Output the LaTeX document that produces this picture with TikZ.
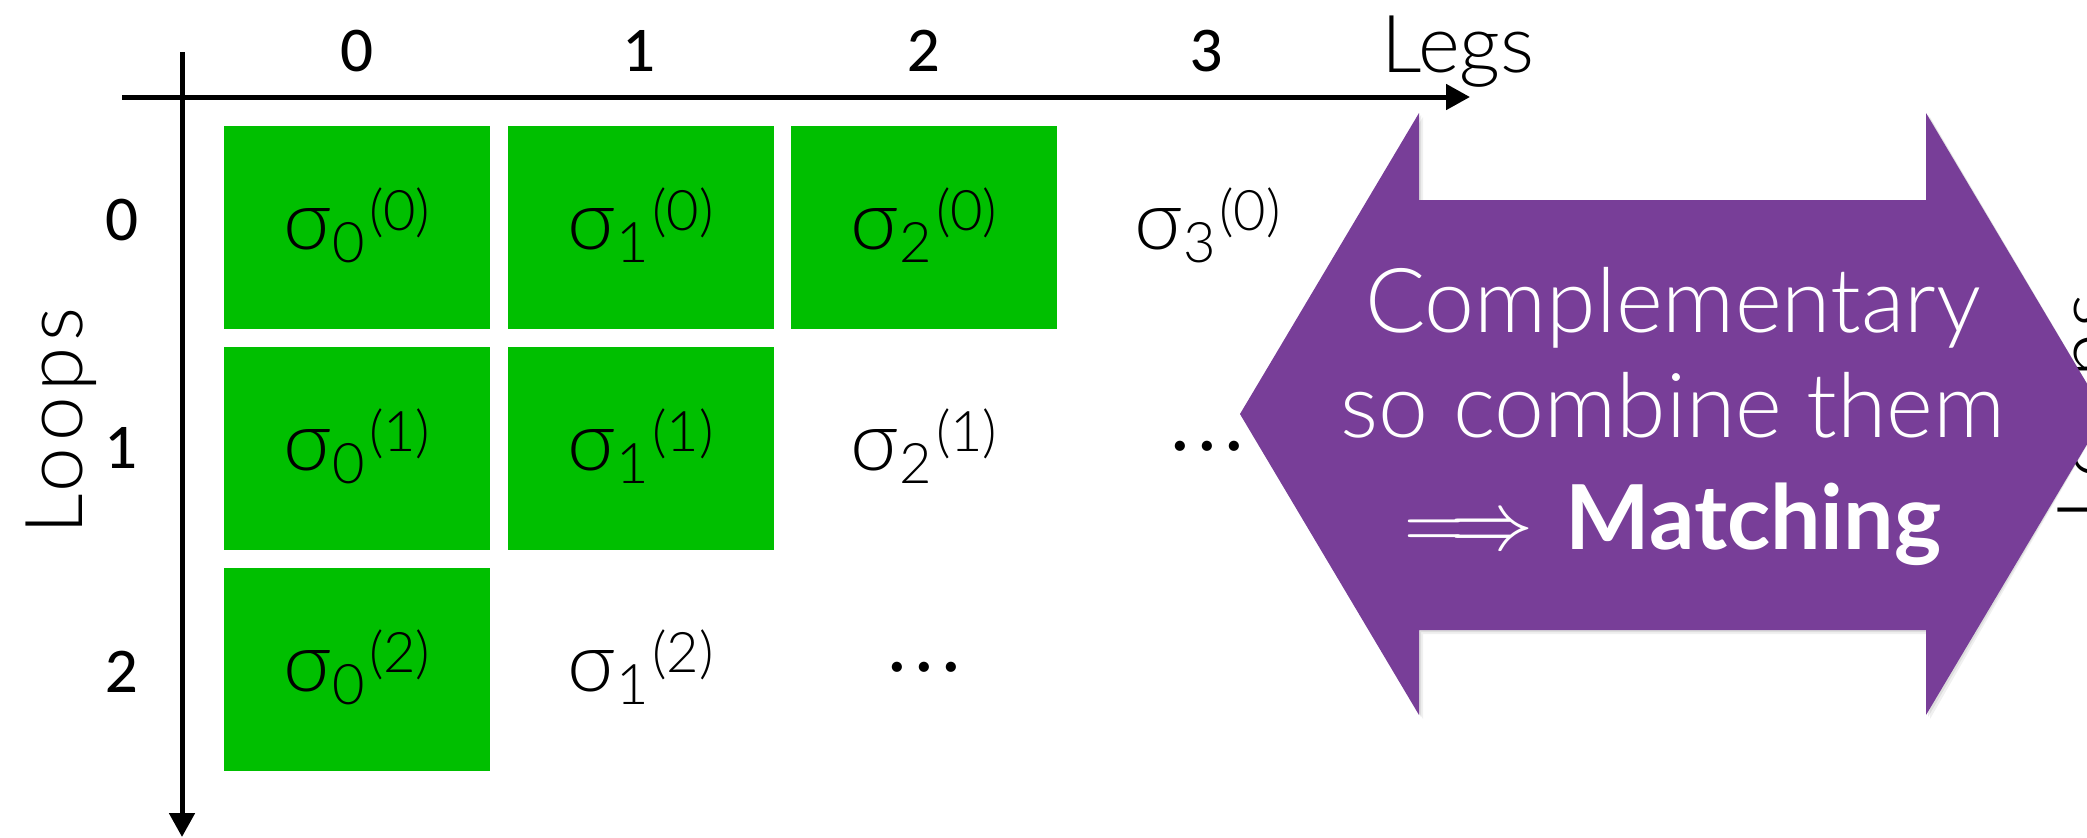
\documentclass[tikz,border=0pt]{standalone}
\usepackage{fontspec}
\setmainfont{Lato Light}
\newfontfamily\digitfont{Lato Medium}
\newfontfamily\heavyfont{Lato Bold}
\newfontfamily\dotfont{Lato}
\usetikzlibrary{arrows.meta}

\definecolor{cellgreen}{RGB}{0,191,0}
\definecolor{bandpurple}{RGB}{120,62,152}

% sigma with lower index and bracketed upper index
\newcommand\sgm[2]{σ\kern0.5pt\raisebox{-6.5pt}{\fontsize{28}{30}\selectfont #1}\kern2pt\raisebox{9.5pt}{\fontsize{28}{30}\selectfont(#2)}}
% three centred dots
\newcommand\middots{\raisebox{2pt}{\dotfont\fontsize{34}{36}\selectfont\makebox[13.5pt]{·}\makebox[13.5pt]{·}\makebox[13.5pt]{·}}}

\tikzset{
  axis/.style={line width=2.5pt, -{Triangle[length=12pt,width=12.5pt]}},
  cell/.style={fill=cellgreen, draw=none, minimum width=133pt, minimum height=101.5pt, inner sep=0pt},
  entry/.style={anchor=base, inner sep=0pt, font=\fontsize{41.5}{44}\selectfont},
  idx/.style={anchor=base, inner sep=0pt, font=\digitfont\fontsize{28.5}{30}\selectfont},
  axlabel/.style={anchor=base, inner sep=0pt, font=\fontsize{40}{42}\selectfont},
  vlabel/.style={anchor=base, inner sep=0pt, rotate=90,
    font=\fontsize{40}{42}\selectfont\addfontfeature{LetterSpace=7}},
  bandtext/.style={anchor=base, inner sep=0pt, text=white, font=\fontsize{44.8}{47}\selectfont},
}

\begin{document}
\begin{tikzpicture}[x=0.5pt, y=-0.5pt]
\useasboundingbox (0,0) rectangle (2087,837);
\clip (0,0) rectangle (2087,837);

% axes
\coordinate (vtop) at (182,52);
\coordinate (vbot) at (182,837);
\coordinate (hleft) at (122,97);
\coordinate (hright) at (1470,97);
\draw[axis] (vtop) -- (vbot);
\draw[axis] (hleft) -- (hright);

\node[axlabel] (legs) at (1458,72) {Legs};
\node[vlabel] (loops) at (82,421) {Loops};

% column and row indices
\foreach \c in {0,1,2,3}
  \node[idx] (col\c) at ({357+283.5*\c},71) {\c};
\node[idx] (row0) at (122,240) {0};
\node[idx] (row1) at (122,468) {1};
\node[idx] (row2) at (122,692) {2};

% filled cells
\foreach \r/\c in {0/0,0/1,0/2,1/0,1/1,2/0}
  \node[cell] (g\r\c) at ({357+283.5*\c},{227.5+221*\r}) {};

% cell entries
\foreach \r/\c in {0/0,0/1,0/2,0/3,1/0,1/1,1/2,2/0,2/1}
  \node[entry] (s\r\c) at ({357+283.5*\c},{249.5+221*\r}) {\sgm{\c}{\r}};
\node[entry] (d13) at (1207,470.5) {\middots};
\node[entry] (d22) at (924,691.5) {\middots};

% neighbouring panel label, partly hidden by the band
\node[vlabel] (loopsR) at (2114,407) {Loops};

% double-headed band with a faint shadow
\coordinate (tipL) at (1240,414);
\coordinate (tipR) at (2105,414);
\def\bandpath{(tipL) -- (1419,113) -- (1419,200) -- (1926,200) -- (1926,113)
  -- (tipR) -- (1926,715) -- (1926,630) -- (1419,630) -- (1419,715) -- cycle}
\fill[black, opacity=0.06, shift={(4,4)}] \bandpath;
\fill[black, opacity=0.08, shift={(2,2)}] \bandpath;
\fill[bandpurple] \bandpath;

\node[bandtext] (b1) at (1673,332) {Complementary};
\node[bandtext] (b2) at (1673,437) {so combine them};
\node[bandtext] (b3) at (1673,549) {\scalebox{1.67}{$\Longrightarrow$}\kern16pt{\heavyfont Matching}};
\end{tikzpicture}
\end{document}
